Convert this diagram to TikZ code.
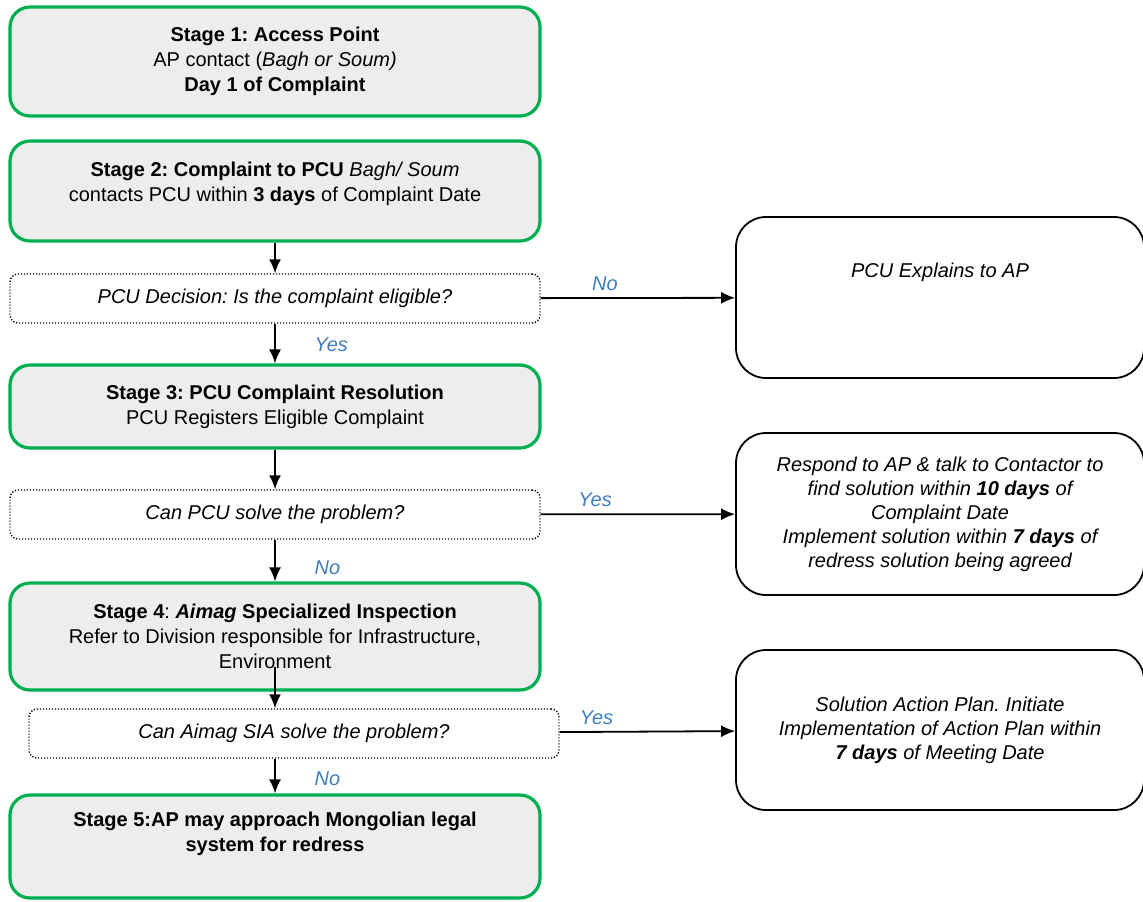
\documentclass[tikz,border=0pt]{standalone}
\usepackage{fontspec}
\setmainfont{Liberation Sans}
\usetikzlibrary{arrows.meta}
\definecolor{stagegreen}{RGB}{0,176,80}
\definecolor{stagegray}{RGB}{237,237,237}
\definecolor{answerblue}{RGB}{61,125,190}
\frenchspacing

\begin{document}
\begin{tikzpicture}[x=0.5pt,y=-0.5pt,
		>={Latex[length=7pt,width=6pt]},
		every node/.style={font=\fontsize{10}{12.5}\selectfont,align=center},
		stagebox/.style={draw=stagegreen,line width=1.6pt,fill=stagegray,rounded corners=10pt,minimum width=265pt,inner sep=2pt},
		askbox/.style={draw,dash pattern=on 0.6pt off 0.9pt,line width=0.7pt,rounded corners=4pt,minimum width=265pt,minimum height=24.5pt,font=\fontsize{10}{12.5}\selectfont\itshape},
		outbox/.style={draw,line width=0.9pt,rounded corners=15pt,minimum width=204pt,font=\fontsize{10}{12}\selectfont\itshape},
		answer/.style={text=answerblue,font=\fontsize{10}{12}\selectfont\itshape},
		flow/.style={->,line width=0.9pt}]
		
		\useasboundingbox (0,0) rectangle (1143,901);
		
		% stages on the left
		\node[stagebox,minimum height=54.5pt] (stage1) at (275,61.5) {\textbf{Stage 1: Access Point}\\AP contact (\textit{Bagh or Soum)}\\\textbf{Day 1 of Complaint}};
		\node[stagebox,minimum height=50pt,text depth=9pt] (stage2) at (275,191) {\textbf{Stage 2: Complaint to PCU} \textit{Bagh/ Soum}\\contacts PCU within \textbf{3 days} of Complaint Date};
		\node[askbox] (ask1) at (275,298.5) {PCU Decision: Is the complaint eligible?};
		\node[stagebox,minimum height=41.5pt] (stage3) at (275,406.5) {\textbf{Stage 3: PCU Complaint Resolution}\\PCU Registers Eligible Complaint};
		\node[askbox] (ask2) at (275,514.5) {Can PCU solve the problem?};
		\node[stagebox,minimum height=53.5pt] (stage4) at (275,636.5) {\textbf{Stage 4}: \textbf{\textit{Aimag}} \textbf{Specialized Inspection}\\Refer to Division responsible for Infrastructure,\\Environment};
		\node[askbox] (ask3) at (294,733.5) {Can Aimag SIA solve the problem?};
		\node[stagebox,minimum height=51.5pt,text depth=15pt] (stage5) at (275,846.5) {\textbf{Stage 5:AP may approach Mongolian legal}\\\textbf{system for redress}};
		
		% outcomes on the right
		\node[outbox,minimum height=80.5pt,text depth=27.5pt] (explain) at (940,297.5) {PCU Explains to AP};
		\node[outbox,minimum height=81pt] (respond) at (940,514) {Respond to AP \& talk to Contactor to\\find solution within \textbf{10 days} of\\Complaint Date\\Implement solution within \textbf{7 days} of\\redress solution being agreed};
		\node[outbox,minimum height=80pt] (plan) at (940,730) {Solution Action Plan. Initiate\\Implementation of Action Plan within\\\textbf{7 days} of Meeting Date};
		
		\draw[flow] (stage2) -- (ask1);
		\draw[flow] (ask1) -- node[answer,right,xshift=16pt,pos=0.52] {Yes} (stage3);
		\draw[flow] (ask1) -- node[answer,above,pos=0.33] {No} (explain);
		\draw[flow] (stage3) -- (ask2);
		\draw[flow] (ask2) -- node[answer,right,xshift=16pt,pos=0.66] {No} (stage4);
		\draw[flow] (ask2) -- node[answer,above,pos=0.28] {Yes} (respond);
		\draw[flow,shorten <=-12.5pt] (stage4.south) -- (stage4.south |- ask3.north);
		\draw[flow] (stage5.north |- ask3.south) -- node[answer,right,xshift=16pt,pos=0.59] {No} (stage5.north);
		\draw[flow] (ask3) -- node[answer,above,pos=0.21] {Yes} (plan);
\end{tikzpicture}
\end{document}
